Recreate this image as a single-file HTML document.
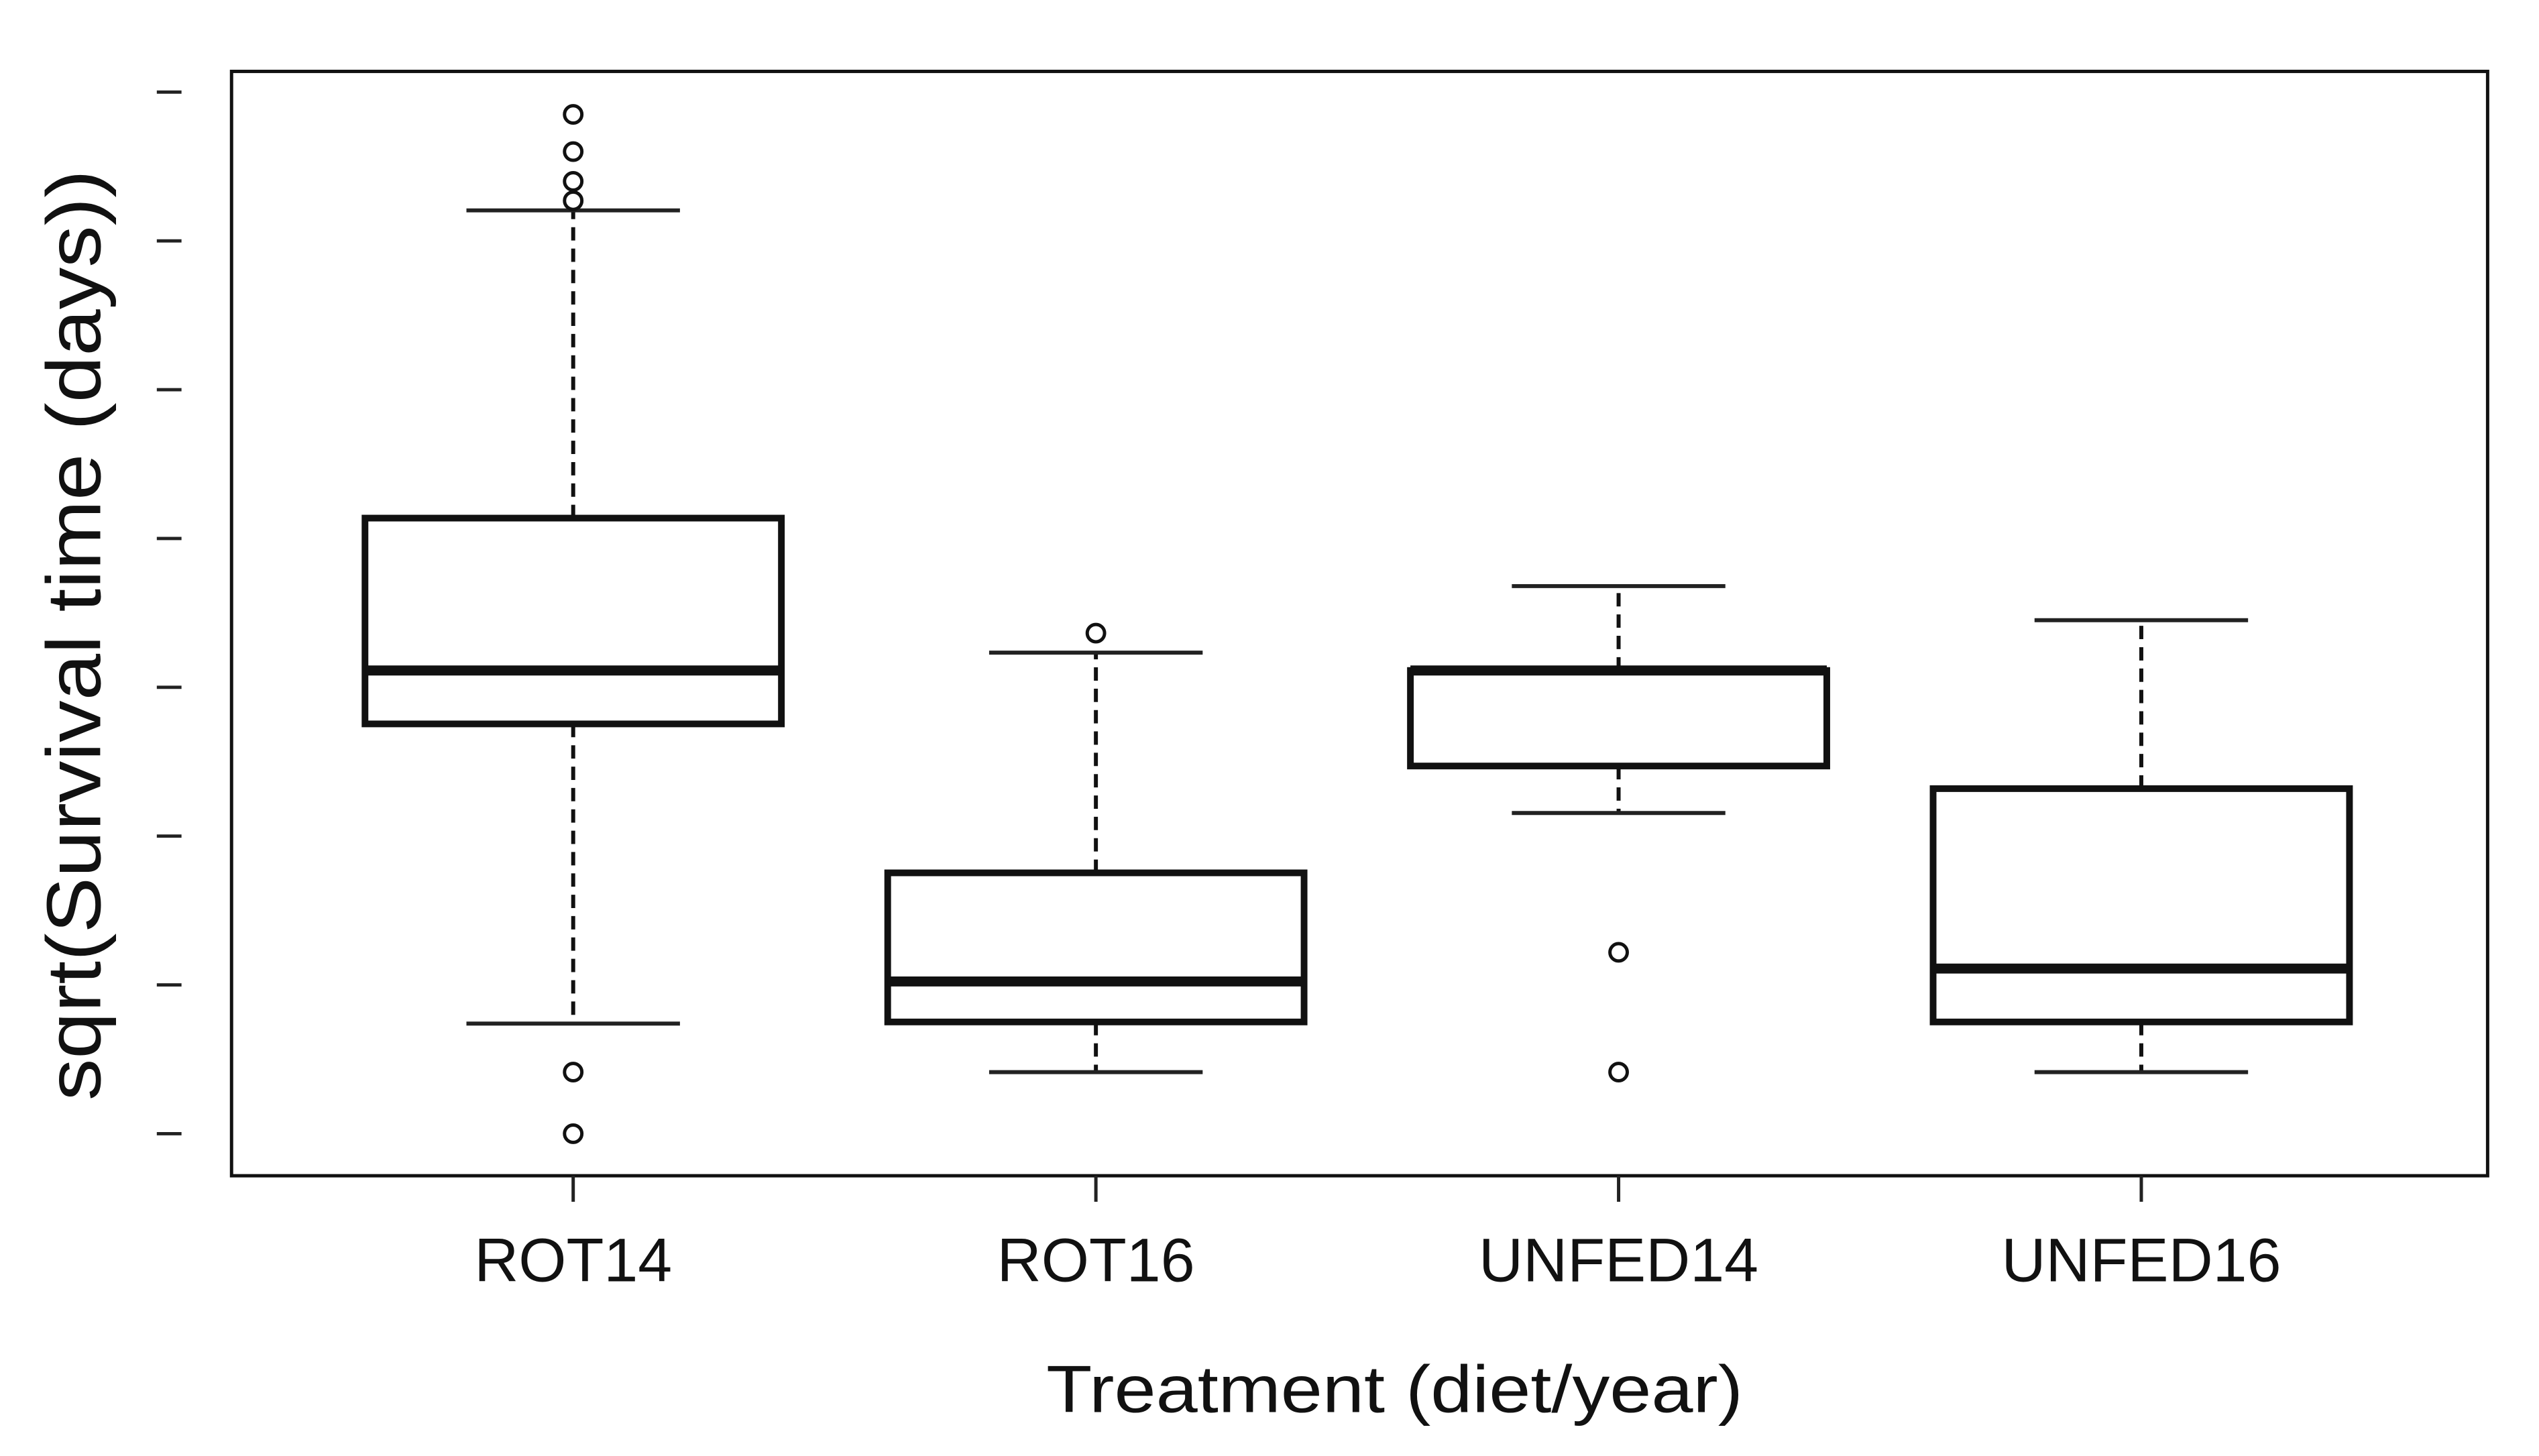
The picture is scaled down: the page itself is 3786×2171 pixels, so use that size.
<!DOCTYPE html>
<html><head><meta charset="utf-8"><style>
html,body{margin:0;padding:0;background:#fff;}
svg{display:block;}
text{font-family:"Liberation Sans",sans-serif;fill:#111;}
</style></head>
<body>
<svg id="chart" width="3786" height="2171" viewBox="0 0 3805 2182" preserveAspectRatio="none" xmlns="http://www.w3.org/2000/svg">
<rect x="0" y="0" width="3805" height="2182" fill="#fff"/>
<rect x="347" y="107" width="3381" height="1655" fill="none" stroke="#111" stroke-width="5"/>
<text x="2090" y="2116" font-size="100" text-anchor="middle" textLength="1044" lengthAdjust="spacingAndGlyphs">Treatment (diet/year)</text>
<text transform="translate(150,952) rotate(-90)" font-size="115" text-anchor="middle" textLength="1395" lengthAdjust="spacingAndGlyphs">sqrt(Survival time (days))</text>
<g id="marks"></g>
</svg>
<script>
const categories = ["ROT14","ROT16","UNFED14","UNFED16"];
const whiskerLow = [0.74, 0.414, 2.155, 0.414];
const q1 = [2.754, 0.751, 2.471, 0.751];
const median = [3.113, 1.023, 3.113, 1.110];
const q3 = [4.137, 1.753, 3.113, 2.319];
const whiskerHigh = [6.205, 3.233, 3.68, 3.451];
const outliers = [[6.85, 6.60, 6.40, 6.27, 0.414, 0.0], [3.364], [1.219, 0.414], []];
const yTicks = [0,1,2,3,4,5,6,7];

const NS = "http://www.w3.org/2000/svg";
const g = document.getElementById('marks');
function yPx(v){ return 1699 - v * (1699 - 138) / 7; }
function xPx(i){ return 859 + i * (3209 - 859) / 3; }
function mk(tag, attrs){ const e = document.createElementNS(NS, tag); for (const k in attrs) e.setAttribute(k, attrs[k]); g.appendChild(e); return e; }

yTicks.forEach(t => {
  const e = mk('line', {x1:235, x2:272, y1:yPx(t), y2:yPx(t), stroke:'#222', 'stroke-width':5});
  
  
});

categories.forEach((c, i) => {
  const cx = xPx(i), hw = 312, cw = 160;
  let e;
  e = mk('line', {x1:cx, x2:cx, y1:1762, y2:1801, stroke:'#222', 'stroke-width':5});
  
  
  e = mk('text', {x:cx, y:1920, 'font-size':92, 'text-anchor':'middle'});
  e.textContent = c;
  
  
  e = mk('line', {x1:cx, x2:cx, y1:yPx(q3[i]), y2:yPx(whiskerHigh[i]), stroke:'#111', 'stroke-width':6, 'stroke-dasharray':'20 12'});
  
  
  e = mk('line', {x1:cx, x2:cx, y1:yPx(q1[i]), y2:yPx(whiskerLow[i]), stroke:'#111', 'stroke-width':6, 'stroke-dasharray':'20 12'});
  
  
  e = mk('line', {x1:cx-cw, x2:cx+cw, y1:yPx(whiskerHigh[i]), y2:yPx(whiskerHigh[i]), stroke:'#222', 'stroke-width':6});
  
  
  e = mk('line', {x1:cx-cw, x2:cx+cw, y1:yPx(whiskerLow[i]), y2:yPx(whiskerLow[i]), stroke:'#222', 'stroke-width':6});
  
  
  e = mk('rect', {x:cx-hw, y:yPx(q3[i]), width:2*hw, height:yPx(q1[i])-yPx(q3[i]), fill:'#fff', stroke:'#111', 'stroke-width':10});
  
  
  e = mk('line', {x1:cx-hw, x2:cx+hw, y1:yPx(median[i]), y2:yPx(median[i]), stroke:'#111', 'stroke-width':15});
  
  
  outliers[i].forEach(v => {
    const o = mk('circle', {cx:cx, cy:yPx(v), r:13, fill:'none', stroke:'#111', 'stroke-width':5});
    
    
  });
});
</script>
</body></html>
